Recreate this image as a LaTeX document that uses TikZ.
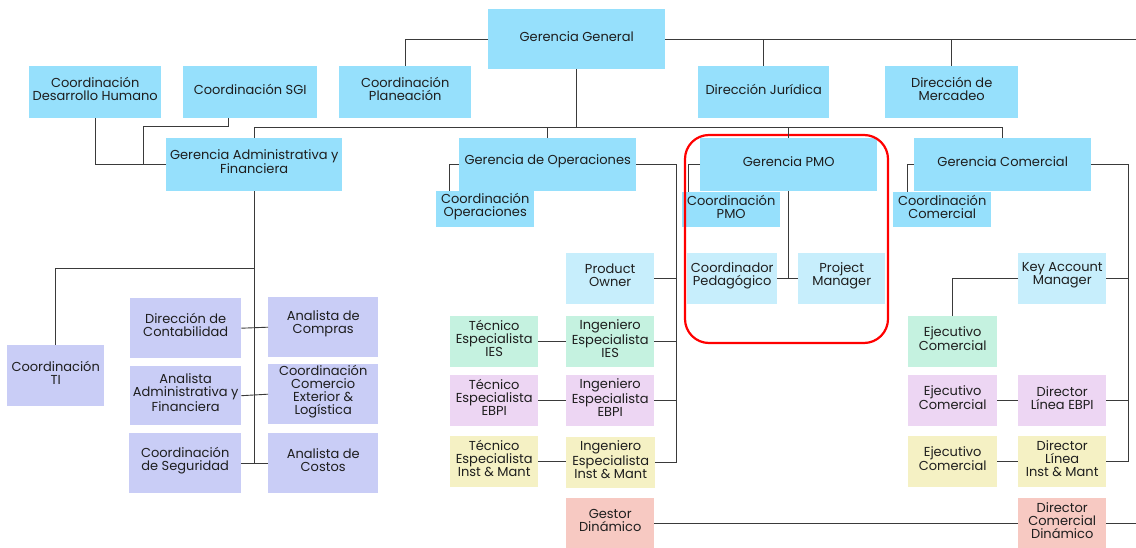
\documentclass[tikz,border=0pt]{standalone}
\usepackage{fontspec}
\setmainfont{Poppins}
\definecolor{cMain}{HTML}{96E0FC}
\definecolor{cLight}{HTML}{C7EEFC}
\definecolor{cLav}{HTML}{C9CDF6}
\definecolor{cMint}{HTML}{C5F2E0}
\definecolor{cLilac}{HTML}{EDD6F3}
\definecolor{cCream}{HTML}{F5F1C4}
\definecolor{cSalmon}{HTML}{F7C9C2}
\definecolor{cLine}{HTML}{3A3A3A}
\definecolor{cText}{HTML}{1E1E1E}
\newcommand\obox[7]{\node[orgbox,fill=#1,minimum width={(#5-#3)*1bp},minimum height={(#6-#4)*1bp},
  label={[orgtext]center:{#7}}] (#2) at (#3,#4) {};}
\begin{document}
\begin{tikzpicture}[x=1bp,y=-1bp,
  orgbox/.style={draw=none,inner sep=0pt,anchor=north west},
  orgtext/.style={inner sep=0pt,align=center,text=cText,yshift=3bp,
    font=\fontsize{13bp}{13bp}\selectfont},
  link/.style={draw=cLine,line width=0.9bp},
  highlight/.style={draw=red,line width=2.2bp,rounded corners=24bp}]
\useasboundingbox (0,0) rectangle (1136,548);
\coordinate (rEdge) at (1136,0);
% top level
\obox{cMain}{gg}{488}{9}{665}{69}{Gerencia General}
\obox{cMain}{cdh}{29}{66}{161}{118}{Coordinación\\Desarrollo Humano}
\obox{cMain}{csgi}{183}{66}{317}{118}{Coordinación SGI}
\obox{cMain}{cpl}{339}{66}{471}{118}{Coordinación\\Planeación}
\obox{cMain}{dj}{698}{66}{829}{118}{Dirección Jurídica}
\obox{cMain}{dm}{885}{66}{1018}{118}{Dirección de\\Mercadeo}
\obox{cMain}{gaf}{166}{138}{342}{191}{Gerencia Administrativa y\\Financiera}
\obox{cMain}{go}{459}{138}{636}{191}{Gerencia de Operaciones}
\obox{cMain}{gpmo}{700}{138}{877}{191}{Gerencia PMO}
\obox{cMain}{gc}{914}{138}{1091}{191}{Gerencia Comercial}
\obox{cMain}{cop}{436}{191}{534}{227}{Coordinación\\Operaciones}
\obox{cMain}{cpmo}{682}{192}{780}{227}{Coordinación\\PMO}
\obox{cMain}{ccom}{893}{192}{991}{227}{Coordinación\\Comercial}
% light blue
\obox{cLight}{po}{566}{253}{654}{304}{Product\\Owner}
\obox{cLight}{cped}{687}{253}{777}{304}{Coordinador\\Pedagógico}
\obox{cLight}{pm}{798}{253}{885}{304}{Project\\Manager}
\obox{cLight}{kam}{1018}{253}{1106}{304}{Key Account\\Manager}
% lavender
\obox{cLav}{cti}{7}{345}{104}{406}{Coordinación\\TI}
\obox{cLav}{dcon}{130}{298}{241}{358}{Dirección de\\Contabilidad}
\obox{cLav}{aaf}{130}{366}{241}{425}{Analista\\Administrativa y\\Financiera}
\obox{cLav}{cseg}{129}{433}{241}{493}{Coordinación\\de Seguridad}
\obox{cLav}{acomp}{268}{297}{378}{357}{Analista de\\Compras}
\obox{cLav}{ccext}{268}{364}{378}{424}{Coordinación\\Comercio\\Exterior \&\\Logística}
\obox{cLav}{acost}{268}{433}{378}{493}{Analista de\\Costos}
% mint
\obox{cMint}{ties}{450}{316}{538}{367}{Técnico\\Especialista\\IES}
\obox{cMint}{iies}{566}{316}{654}{367}{Ingeniero\\Especialista\\IES}
\obox{cMint}{ejc1}{908}{316}{997}{367}{Ejecutivo\\Comercial}
% lilac
\obox{cLilac}{tebpi}{450}{375}{538}{426}{Técnico\\Especialista\\EBPI}
\obox{cLilac}{iebpi}{566}{375}{654}{426}{Ingeniero\\Especialista\\EBPI}
\obox{cLilac}{ejc2}{908}{375}{997}{426}{Ejecutivo\\Comercial}
\obox{cLilac}{dlebpi}{1018}{375}{1106}{426}{Director\\Línea EBPI}
% cream
\obox{cCream}{tim}{450}{436}{538}{487}{Técnico\\Especialista\\Inst \& Mant}
\obox{cCream}{iim}{566}{437}{655}{488}{Ingeniero\\Especialista\\Inst \& Mant}
\obox{cCream}{ejc3}{908}{436}{997}{487}{Ejecutivo\\Comercial}
\obox{cCream}{dlim}{1018}{436}{1106}{487}{Director\\Línea\\Inst \& Mant}
% salmon
\obox{cSalmon}{gd}{566}{498}{654}{548}{Gestor\\Dinámico}
\obox{cSalmon}{dcd}{1018}{498}{1106}{548}{Director\\Comercial\\Dinámico}
% highlight
\draw[highlight] (685,135) rectangle (888,343);
% connectors: top
\draw[link] (gg.west) -| (cpl.north);
\draw[link] (gg.east) -- (gg.east -| rEdge);
\draw[link] (dj.north) -- (dj.north |- gg.east);
\draw[link] (dm.north) -- (dm.north |- gg.east);
% bus
\draw[link] (gaf.north) -- ++(0,-11) coordinate (busL) -| (gc.north);
\draw[link] (gg.south) -- (gg.south |- busL);
\draw[link] (go.north) -- (go.north |- busL);
\draw[link] (gpmo.north) -- (gpmo.north |- busL);
% admin side
\draw[link] (cdh.south) |- (gaf.west);
\draw[link] ([xshift=-22bp]csgi.south) -- ++(0,8) -| ([xshift=-23bp]gaf.west);
\draw[link] (gaf.south) -- (gaf.south |- cseg.east);
\draw[link] (cti.north) -- ++(0,-77) -| (gaf.south);
\draw[link] (dcon.east) -- (acomp.west);
\draw[link] (aaf.east) -- (ccext.west);
\draw[link] (cseg.east) -- (acost.west);
% operations
\draw[link] (go.west) -| ([xshift=-36bp]cop.north);
\coordinate (vO) at ([xshift=40bp]go.east);
\draw[link] (go.east) -- (vO) |- (iim.east);
\draw[link] (po.east) -- (po.east -| vO);
\draw[link] (iies.east) -- (iies.east -| vO);
\draw[link] (iebpi.east) -- (iebpi.east -| vO);
\draw[link] (ties) -- (iies);
\draw[link] (tebpi) -- (iebpi);
\draw[link] (tim.east) -- (tim.east -| iim.west);
% PMO
\draw[link] (gpmo.west) -| ([xshift=-43bp]cpmo.north);
\draw[link] (gpmo.south) -- (gpmo.south |- pm.west);
\draw[link] (cped.east) -- (pm.west);
% commercial
\draw[link] (gc.west) -| ([xshift=-35bp]ccom.north);
\coordinate (vC) at ([xshift=37bp]gc.east);
\draw[link] (gc.east) -- (vC) |- (dlim.east);
\draw[link] (kam.east) -- (kam.east -| vC);
\draw[link] (dlebpi.east) -- (dlebpi.east -| vC);
\draw[link] (kam.west) -| (ejc1.north);
\draw[link] (ejc2) -- (dlebpi);
\draw[link] (ejc3) -- (dlim);
% dinamico
\draw[link] (gd.east) -- (dcd.west);
\draw[link] (dcd.east) -- (dcd.east -| rEdge);
\end{tikzpicture}
\end{document}
